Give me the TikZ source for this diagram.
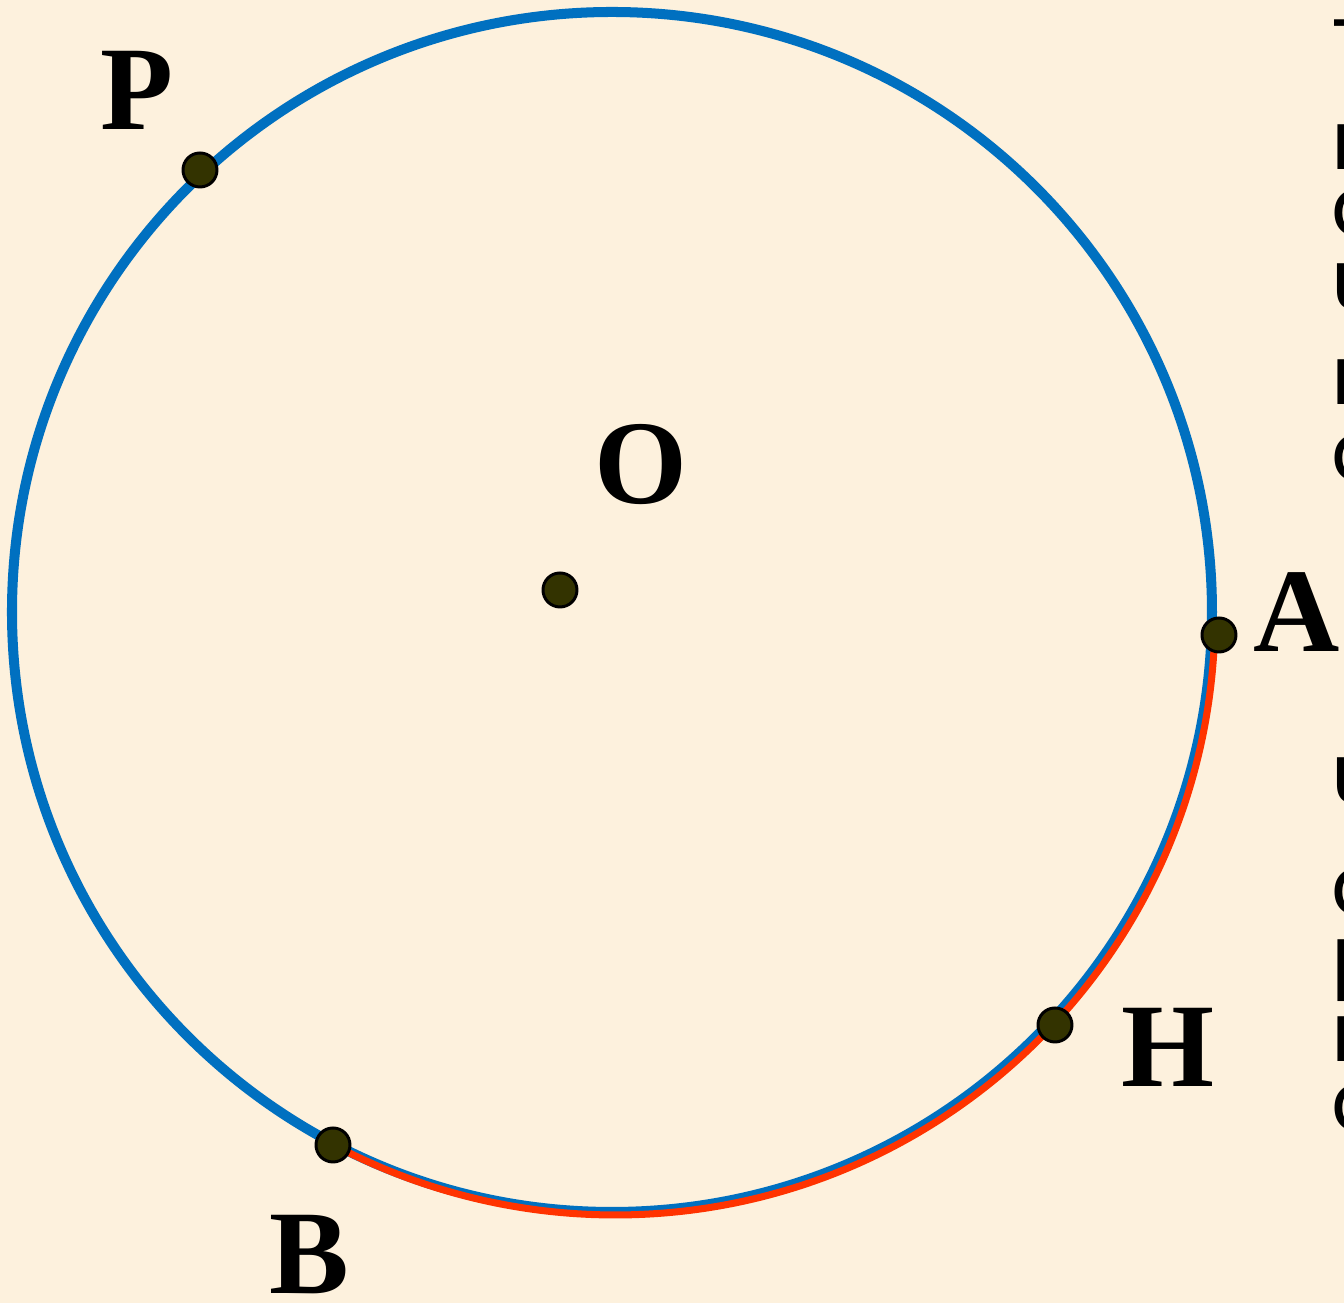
\documentclass[tikz,border=0pt]{standalone}
\usepackage{fontspec}
\setmainfont{Liberation Serif}
\newfontfamily\sidefont{DejaVu Sans}
\definecolor{bgcream}{HTML}{FDF1DD}
\definecolor{arcblue}{HTML}{0070C0}
\definecolor{arcred}{HTML}{FF3300}
\definecolor{dotolive}{HTML}{333300}

\begin{document}
\begin{tikzpicture}[line join=round, line cap=round,
	lbl/.style={font=\fontsize{34}{40}\selectfont\bfseries, inner sep=0pt},
	sidetext/.style={font=\sidefont\fontsize{23.3}{28}\selectfont, anchor=base west, inner sep=0pt},
	pt/.style={fill=dotolive, draw=black, line width=0.85pt}]
	\def \r{6} \def \rdot{0.17}
	\useasboundingbox[fill=bgcream] (-6.12,-6.91) rectangle (7.32,6.12);
	\coordinate (C) at (0,0);
	\coordinate (O) at (-0.52,0.22);
	\coordinate (A) at (6.07,-0.23);
	\coordinate (H) at (4.43,-4.13);
	\coordinate (B) at (-2.79,-5.33);
	\coordinate (P) at (-4.12,4.42);
	\draw[arcblue, line width=2.85pt] (C) circle (\r);
	\draw[arcred, line width=2pt] ([shift={(0.03,-0.03)}]-2.2:\r) arc (-2.2:-117.6:\r);
	\foreach \p in {O,A,H,B,P} \filldraw[pt] (\p) circle (\rdot);
	\node[lbl] (lO) at (0.29,1.47) {O};
	\node[lbl] (lA) at (6.85,0) {A};
	\node[lbl] (lH) at (5.56,-4.35) {H};
	\node[lbl] (lB) at (-3.03,-6.43) {B};
	\node[lbl] (lP) at (-4.75,5.22) {P};
	% cut text at the right edge
	\begin{scope}
		\clip (-6.12,-6.91) rectangle (7.32,6.12);
		\foreach \y/\t [count=\i] in {5.66/-, 4.42/н, 3.76/с, 3.03/u, 2.07/н, 1.31/с,
			-1.91/u, -3.03/с, -3.73/р, -4.50/к, -5.19/с}
			\node[sidetext] (s\i) at (7.18,\y) {\t};
	\end{scope}
\end{tikzpicture}
\end{document}
